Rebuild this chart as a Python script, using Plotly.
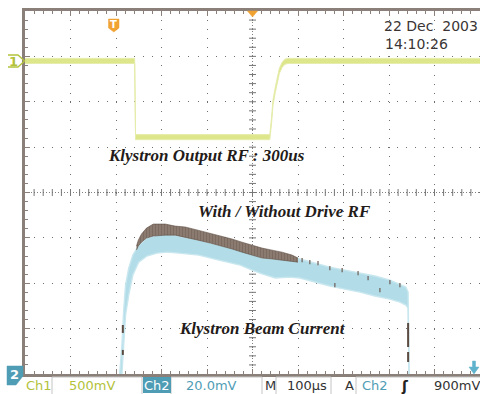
import plotly.graph_objects as go

# ---------------- data (time in microseconds, 100 us/div, trigger at centre) -------------
# Ch1 : Klystron output RF detector (mV, 500 mV/div), noise envelope
ch1_t  = [-500, -259, -257, 38, 42, 45, 50, 54, 59, 65, 71, 78, 500]
ch1_hi = [28, 28, -812, -812, -622, -432, -292, -182, -82, -17, 18, 28, 28]
ch1_lo = [-28, -28, -868, -868, -678, -488, -348, -238, -138, -73, -38, -28, -28]

# Ch2 : Klystron beam current without drive RF (mV, 20 mV/div), noise envelope
ch2_t_up = [-292, -287, -283, -279, -272, -263, -250, -232, -210, -188, -162, -118, -74, -27,
            -1, 21, 50, 82, 104, 137, 170, 203, 236, 269, 302, 324, 337, 342, 344]
ch2_up   = [0, 12.8, 28.2, 39.2, 46.7, 52.4, 56.8, 59.9, 61.2, 61.7, 60.8, 59.0, 56.8, 54.6,
            52.9, 51.1, 50.7, 51.5, 50.7, 48.9, 47.1, 45.8, 44.5, 43.2, 41.4, 39.6, 38.3, 36.1, 0]
ch2_t_lo = [-287, -283, -279, -272, -263, -250, -232, -210, -188, -162, -118, -74, -27,
            -1, 21, 50, 82, 104, 137, 170, 203, 236, 269, 302, 324, 337, 342, 344]
ch2_lo   = [0, 12.8, 26.0, 34.8, 43.6, 49.3, 52.0, 53.3, 53.7, 53.3, 52.4, 50.2, 48.0,
            45.8, 44.1, 42.3, 42.7, 42.3, 40.5, 38.8, 37.4, 36.1, 34.4, 33.0, 31.7, 30.4, 29.1, 0]

# Ch2 : beam current with drive RF (dark trace), envelope + sparse samples + edges
br_t  = [-255, -251, -244, -233, -218, -192, -170, -148, -120, -93, -67, -45, -23, -1,
         21, 43, 65, 87, 100]
br_up = [56.4, 59.0, 61.7, 64.3, 66.1, 66.1, 65.2, 64.8, 63.4, 62.1, 60.8, 59.5, 58.1, 56.8,
         55.5, 54.6, 53.7, 52.4, 51.1]
br_lo = [54.6, 56.4, 58.1, 59.9, 60.8, 61.2, 61.2, 60.3, 59.0, 57.7, 56.4, 55.1, 53.7, 52.4,
         51.1, 50.7, 50.2, 49.8, 49.3]
brd_t  = [109, 126, 144, 170, 181, 197, 232, 254, 280, 302, 324]
brd_mv = [50.2, 49.3, 48.9, 46.7, 39.2, 45.8, 44.5, 42.3, 37.0, 40.5, 39.2]
bre_t  = [-285, -285, None, -285, -285, None, 342, 342, None, 342, 342]
bre_mv = [21.6, 18.1, None, 10.6, 8.4, None, 22.5, 11.9, None, 9.7, 5.3]

# scope settings
ch1_scale, ch1_pos = 500, 2.9     # mV/div, ground position (div)
ch2_scale, ch2_pos = 20, -4.0
t_div = 100

labels_bar = {"ch1": "Ch1", "ch1s": "500mV", "ch2": "Ch2", "ch2s": "20.0mV",
              "m": "M", "ms": "100µs", "a": "A", "trig": "Ch2", "lvl": "900mV"}
annot_texts = ["Klystron Output RF : 300us", "With / Without Drive RF", "Klystron Beam Current"]

# ---------------- figure geometry ----------------
W, H = 480, 394
L, R, T, B = 25, 0, 11, 20
PW, PH = W - L - R, H - T - B


def px(x):
    return (x - L) / PW


def py(y):
    return (H - B - y) / PH


FRAME = "#8b8079"
GRID = "#6f6f6f"
YEL = "#dde68a"
YEL_TXT = "#b3c23a"
BLUE = "#b2dce8"
TEAL = "#4f9db5"
BROWN = "#5c4b41"
ORANGE = "#f0a232"

fig = go.Figure()

# centre-line tick marks (primary axes: time / divisions)
xt = [i * 20 for i in range(-24, 25)]
yt = [i * 0.2 for i in range(-19, 20)]
fig.add_trace(go.Scatter(x=xt, y=[0] * len(xt), mode="markers", hoverinfo="skip",
                         marker=dict(symbol="line-ns", size=5, line=dict(width=1, color="#777777"))))
fig.add_trace(go.Scatter(x=[0] * len(yt), y=yt, mode="markers", hoverinfo="skip",
                         marker=dict(symbol="line-ew", size=5, line=dict(width=1, color="#777777"))))

# Ch1 band
fig.add_trace(go.Scatter(x=ch1_t, y=ch1_lo, yaxis="y2", mode="lines", hoverinfo="skip",
                         line=dict(color="#e6ecaa", width=1)))
fig.add_trace(go.Scatter(x=ch1_t, y=ch1_hi, yaxis="y2", mode="lines", hoverinfo="skip",
                         line=dict(color="#e6ecaa", width=1), fill="tonexty", fillcolor=YEL))

# Ch2 without drive (light blue band)
fig.add_trace(go.Scatter(x=ch2_t_lo, y=ch2_lo, yaxis="y3", mode="lines", hoverinfo="skip",
                         line=dict(color="#c8e7ef", width=1.4)))
fig.add_trace(go.Scatter(x=ch2_t_up, y=ch2_up, yaxis="y3", mode="lines", hoverinfo="skip",
                         line=dict(color="#c8e7ef", width=1.4), fill="tonexty", fillcolor=BLUE))

# Ch2 with drive (dark striped band)
fig.add_trace(go.Scatter(x=br_t, y=br_lo, yaxis="y3", mode="lines", hoverinfo="skip",
                         line=dict(color="rgba(92,75,65,0.7)", width=0.8)))
fig.add_trace(go.Scatter(x=br_t, y=br_up, yaxis="y3", mode="lines", hoverinfo="skip",
                         line=dict(color="rgba(92,75,65,0.7)", width=0.8), fill="tonexty",
                         fillcolor="#7a6a60",
                         fillpattern=dict(shape="|", fgcolor=BROWN, bgcolor="#9a8b81",
                                          size=3, solidity=0.7)))
fig.add_trace(go.Scatter(x=brd_t, y=brd_mv, yaxis="y3", mode="markers", hoverinfo="skip",
                         marker=dict(symbol="line-ns", size=3, line=dict(width=1.2, color="#6e5e55"))))
fig.add_trace(go.Scatter(x=bre_t, y=bre_mv, yaxis="y3", mode="lines", hoverinfo="skip",
                         line=dict(color=BROWN, width=2)))

axis_common = dict(showticklabels=False, zeroline=False)
fig.update_layout(
    width=W, height=H, autosize=False,
    margin=dict(l=L, r=R, t=T, b=B, pad=0),
    paper_bgcolor="white", plot_bgcolor="white",
    showlegend=False,
    xaxis=dict(range=[-5 * t_div, 5 * t_div], dtick=t_div, tick0=0, showgrid=True,
               gridcolor=GRID, gridwidth=1, griddash="1px,8.08px",
               showline=True, linecolor=FRAME, linewidth=3, mirror="ticks",
               ticks="inside", ticklen=5, tickcolor=FRAME, tickwidth=1,
               minor=dict(dtick=20, ticks="inside", ticklen=3, tickcolor=FRAME, showgrid=False),
               **axis_common),
    yaxis=dict(range=[-4, 4], dtick=1, tick0=0, showgrid=True,
               gridcolor=GRID, gridwidth=1, griddash="1px,8.08px",
               showline=True, linecolor=FRAME, linewidth=3, mirror=False,
               ticks="inside", ticklen=5, tickcolor=FRAME, tickwidth=1,
               minor=dict(dtick=0.2, ticks="inside", ticklen=3, tickcolor=FRAME, showgrid=False),
               **axis_common),
    yaxis2=dict(overlaying="y", visible=False,
                range=[(-4 - ch1_pos) * ch1_scale, (4 - ch1_pos) * ch1_scale]),
    yaxis3=dict(overlaying="y", visible=False,
                range=[(-4 - ch2_pos) * ch2_scale, (4 - ch2_pos) * ch2_scale]),
)

shapes = []
# centre cross dotted lines
shapes.append(dict(type="line", xref="x", yref="y", x0=0, x1=0, y0=-4, y1=4, layer="below",
                   line=dict(color="#808080", width=1, dash="1px,2px")))
shapes.append(dict(type="line", xref="x", yref="y", x0=-500, x1=500, y0=0, y1=0, layer="below",
                   line=dict(color="#808080", width=1, dash="1px,2px")))


def path(pts, close=True):
    s = "M " + " L ".join(f"{px(a):.5f},{py(b):.5f}" for a, b in pts)
    return s + (" Z" if close else "")


# Ch1 ground marker (outline tag)
shapes.append(dict(type="path", xref="paper", yref="paper",
                   path=path([(8, 55), (18, 55), (24.5, 61), (18, 67), (8, 67)], close=False),
                   line=dict(color=YEL_TXT, width=1.3)))
# Ch2 ground marker (filled teal tag)
shapes.append(dict(type="path", xref="paper", yref="paper",
                   path=path([(7, 366), (23, 366), (23, 376), (16, 385), (7, 385)]),
                   fillcolor=TEAL, line=dict(color=TEAL, width=0.5)))
# trigger position marker "T"
shapes.append(dict(type="path", xref="paper", yref="paper",
                   path=path([(108.5, 19), (119, 19), (119, 28), (113.8, 32), (108.5, 28)]),
                   fillcolor=ORANGE, line=dict(color=ORANGE, width=0.5)))
# horizontal position triangle (top centre)
shapes.append(dict(type="path", xref="paper", yref="paper",
                   path=path([(247.5, 11), (257.5, 11), (252.5, 17)]),
                   fillcolor=ORANGE, line=dict(color=ORANGE, width=0.5)))
# trigger level arrow (bottom right)
shapes.append(dict(type="path", xref="paper", yref="paper",
                   path=path([(472.5, 361), (475.5, 361), (475.5, 367), (479, 367), (474, 374),
                              (469, 367), (472.5, 367)]),
                   fillcolor="#5fb2cc", line=dict(color="#5fb2cc", width=0.5)))

# bottom readout boxes
for x0, x1 in [(52, 142), (171, 262), (276, 331), (356, 481)]:
    shapes.append(dict(type="rect", xref="paper", yref="paper",
                       x0=px(x0), x1=px(x1), y0=py(394.5), y1=py(377),
                       fillcolor="white", line=dict(color="#c4c4c4", width=1)))
shapes.append(dict(type="rect", xref="paper", yref="paper",
                   x0=px(143), x1=px(171), y0=py(393), y1=py(377),
                   fillcolor=TEAL, line=dict(color=TEAL, width=0)))
fig.update_layout(shapes=shapes)

ann = []


def add_text(text, x, y, size, color, family="DejaVu Sans", xanchor="left", yanchor="middle",
             weight=None, style=None):
    f = dict(size=size, color=color, family=family)
    if weight:
        f["weight"] = weight
    if style:
        f["style"] = style
    ann.append(dict(text=text, x=px(x), y=py(y), xref="paper", yref="paper", showarrow=False,
                    xanchor=xanchor, yanchor=yanchor, font=f))


# markers' glyphs
add_text("1", 13, 61.5, 13, YEL_TXT, xanchor="center", weight="bold")
add_text("2", 14.5, 375, 13, "white", xanchor="center", weight="bold")
add_text("T", 113.8, 24.5, 10, "white", xanchor="center", weight="bold")

# date/time
add_text("22 Dec  2003", 382, 26, 14, "#3a3534")
add_text("14:10:26", 383, 44, 14, "#3a3534")

# annotation texts
serif = "Liberation Serif"
add_text(annot_texts[0], 206.5, 155.5, 17, "#231b19", family=serif, xanchor="center",
         weight="bold", style="italic")
add_text(annot_texts[1], 284, 212, 17, "#231b19", family=serif, xanchor="center",
         weight="bold", style="italic")
add_text(annot_texts[2], 262.5, 328, 17, "#231b19", family=serif, xanchor="center",
         weight="bold", style="italic")

# bottom readout
by = 385.5
add_text(labels_bar["ch1"], 23.5, by, 13, YEL_TXT)
add_text(labels_bar["ch1s"], 67, by, 13, YEL_TXT)
add_text(labels_bar["ch2"], 157, by, 13, "white", xanchor="center")
add_text(labels_bar["ch2s"], 184, by, 13, TEAL)
add_text(labels_bar["m"], 262.5, by, 13, "#333333")
add_text(labels_bar["ms"], 285, by, 13, "#333333")
add_text(labels_bar["a"], 343, by, 13, "#333333")
add_text(labels_bar["trig"], 360, by, 13, TEAL)
add_text("ʃ", 405, by, 14, "#222222", xanchor="center", weight="bold")
add_text(labels_bar["lvl"], 432, by, 13, "#333333")

fig.update_layout(annotations=ann)

fig.write_html("out.html")
